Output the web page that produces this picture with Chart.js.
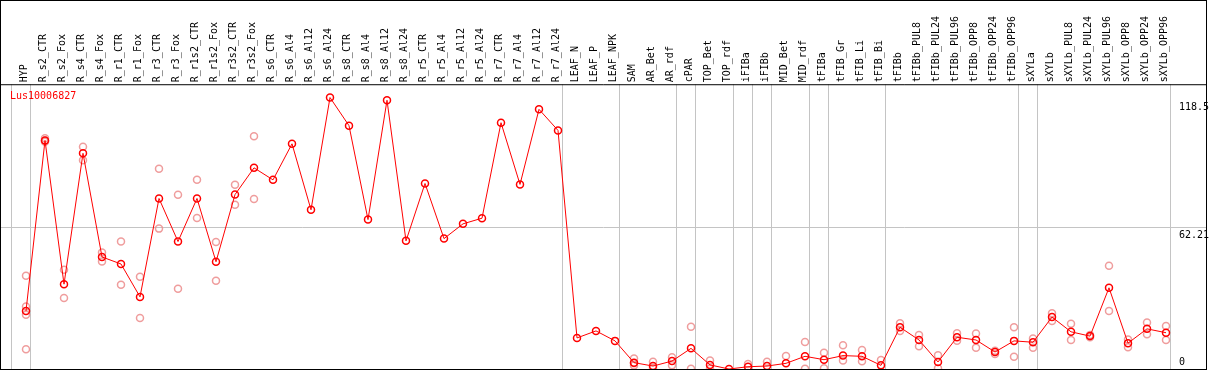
<!DOCTYPE html>
<html>
<head>
<meta charset="utf-8">
<script src="https://cdn.jsdelivr.net/npm/chart.js@4.4.1/dist/chart.umd.min.js"></script>
<style>
  html, body { margin: 0; padding: 0; background: #fff; }
</style>
</head>
<body>
<canvas id="myChart" width="1209" height="370"></canvas>
<script>
const geneName = 'Lus10006827';

const categories = [
  'HYP', 'R_s2_CTR', 'R_s2_Fox', 'R_s4_CTR', 'R_s4_Fox', 'R_r1_CTR', 'R_r1_Fox', 'R_r3_CTR', 'R_r3_Fox',
  'R_r1s2_CTR', 'R_r1s2_Fox', 'R_r3s2_CTR', 'R_r3s2_Fox', 'R_s6_CTR', 'R_s6_Al4', 'R_s6_Al12', 'R_s6_Al24',
  'R_s8_CTR', 'R_s8_Al4', 'R_s8_Al12', 'R_s8_Al24', 'R_r5_CTR', 'R_r5_Al4', 'R_r5_Al12', 'R_r5_Al24',
  'R_r7_CTR', 'R_r7_Al4', 'R_r7_Al12', 'R_r7_Al24', 'LEAF_N', 'LEAF_P', 'LEAF_NPK', 'SAM', 'AR_Bet', 'AR_rdf',
  'cPAR', 'TOP_Bet', 'TOP_rdf', 'iFIBa', 'iFIBb', 'MID_Bet', 'MID_rdf', 'tFIBa', 'tFIB_Gr', 'tFIB_Li', 'tFIB_Bi',
  'tFIBb', 'tFIBb_PUL8', 'tFIBb_PUL24', 'tFIBb_PUL96', 'tFIBb_OPP8', 'tFIBb_OPP24', 'tFIBb_OPP96',
  'sXYLa', 'sXYLb', 'sXYLb_PUL8', 'sXYLb_PUL24', 'sXYLb_PUL96', 'sXYLb_OPP8', 'sXYLb_OPP24', 'sXYLb_OPP96'
];

// mean expression per sample
const means = [
  25.6, 100.8, 37.4, 95.1, 49.4, 46.3, 31.8, 75.2, 56.2,
  75.2, 47.3, 76.9, 88.7, 83.4, 99.3, 70.2, 119.7,
  107.3, 65.9, 118.5, 56.5, 81.8, 57.5, 64.0, 66.5,
  108.6, 81.4, 114.5, 105.2, 13.7, 16.8, 12.4, 2.8, 1.3, 3.5,
  9.1, 1.8, 0.0, 1.0, 1.3, 2.5, 5.6, 4.1, 5.9, 5.6, 1.6,
  18.4, 12.8, 3.1, 14.0, 12.8, 7.5, 12.4,
  11.8, 22.9, 16.4, 14.5, 35.8, 11.4, 17.7, 16.0
];

// individual replicates (null = none shown)
const repHigh = [
  41.1, 101.7, 43.8, 98.0, 51.4, 56.2, 40.7, 88.3, 76.8,
  83.4, 56.0, 81.2, 102.6, null, null, null, null,
  null, null, null, null, null, null, null, null,
  null, null, null, null, null, null, null, 4.6, 3.2, 5.2,
  18.6, 3.8, null, 2.2, 3.2, 5.7, 11.9, 7.2, 10.5, 8.4, 4.0,
  20.2, 15.0, 6.1, 15.8, 15.6, 8.0, 18.4,
  13.4, 24.6, 19.9, 15.0, 45.5, 13.0, 20.5, 19.0
];
const repLow = [
  8.7, 100.2, 31.3, 92.0, 47.4, 37.1, 22.5, 61.9, 35.4,
  66.6, 38.9, 72.4, 75.0, null, null, null, null,
  null, null, null, null, null, null, null, null,
  null, null, null, null, null, null, null, 1.5, 0.5, 1.6,
  0.1, 0.1, null, null, null, null, 0.1, 0.3, 3.8, 3.4, null,
  16.8, 10.0, 0.3, 12.5, 9.4, 6.6, 5.4,
  9.4, 21.2, 12.8, 14.0, 25.6, 9.6, 15.3, 12.8
];
const repExtraA = [
  27.6, 100.8, null, null, null, null, null, null, null,
  null, null, null, null, null, null, null, null,
  null, null, null, null, null, null, null, null,
  null, null, null, null, null, null, null, 2.5, null, null,
  null, null, null, null, null, null, null, null, null, null, null,
  null, null, null, null, null, null, null,
  null, null, null, null, null, null, null, null
];
const repExtraB = [
  23.9, null, null, null, null, null, null, null, null,
  null, null, null, null, null, null, null, null,
  null, null, null, null, null, null, null, null,
  null, null, null, null, null, null, null, null, null, null,
  null, null, null, null, null, null, null, null, null, null, null,
  null, null, null, null, null, null, null,
  null, null, null, null, null, null, null, null
];

const yTicks = [62.21, 118.5];
const groupEnds = [-1, 0, 28, 31, 34, 35, 37, 38, 39, 41, 42, 45, 52, 53, 60];

const monoFont = { family: 'DejaVu Sans Mono', size: 10 };
const xMin = -1.3158;
const xMax = 62.105;
const yMax = 125.57;

const toPoints = (arr) => arr.map((v, i) => ({ x: i, y: v }));

// keep the axes from eating into the plot area
const noPadX = (s) => { s.paddingLeft = 0; s.paddingRight = 0; };
const noPadY = (s) => { s.width = 0; s.paddingTop = 0; s.paddingBottom = 0; };

const repStyle = {
  showLine: false,
  pointRadius: 3.5,
  pointBorderWidth: 1.5,
  pointBorderColor: 'rgba(236, 140, 140, 0.85)',
  pointBackgroundColor: 'rgba(0,0,0,0)',
  order: 2
};

const framePlugin = {
  id: 'frame',
  afterDraw(chart) {
    const { ctx, chartArea } = chart;
    ctx.save();
    ctx.strokeStyle = '#000';
    ctx.lineWidth = 1;
    ctx.strokeRect(0.5, 0.5, chartArea.right, chart.height - 1);
    ctx.beginPath();
    ctx.moveTo(0, chartArea.top + 0.5);
    ctx.lineTo(chartArea.right + 0.5, chartArea.top + 0.5);
    ctx.stroke();
    ctx.fillStyle = '#ff0000';
    ctx.font = '10px "DejaVu Sans Mono"';
    ctx.textBaseline = 'top';
    ctx.fillText(geneName, chartArea.left + 9, chartArea.top + 7);
    ctx.restore();
  }
};

const ctx = document.getElementById('myChart');

const config = {
  type: 'line',
  data: {
    datasets: [
      {
        label: geneName,
        data: toPoints(means),
        borderColor: '#ff0000',
        borderWidth: 1,
        pointRadius: 3.5,
        pointBorderWidth: 1.5,
        pointBorderColor: '#ff0000',
        pointBackgroundColor: 'rgba(0,0,0,0)',
        tension: 0,
        order: 1
      },
      Object.assign({ label: 'rep1', data: toPoints(repHigh) }, repStyle),
      Object.assign({ label: 'rep2', data: toPoints(repLow) }, repStyle),
      Object.assign({ label: 'rep3', data: toPoints(repExtraA) }, repStyle),
      Object.assign({ label: 'rep4', data: toPoints(repExtraB) }, repStyle)
    ]
  },
  options: {
    responsive: false,
    animation: false,
    layout: { autoPadding: false, padding: { left: 1, right: 3, top: 14, bottom: 1 } },
    plugins: { legend: { display: false }, tooltip: { enabled: false } },
    scales: {
      x: {
        type: 'linear',
        position: 'top',
        min: xMin,
        max: xMax,
        afterBuildTicks: (axis) => { axis.ticks = categories.map((c, i) => ({ value: i })); },
        afterFit: noPadX,
        ticks: {
          autoSkip: false,
          maxRotation: 90,
          minRotation: 90,
          padding: 2,
          labelOffset: 10,
          color: '#000',
          font: monoFont,
          callback: (v) => categories[v]
        },
        grid: { display: false, drawTicks: false },
        border: { display: false }
      },
      xg: {
        type: 'linear',
        axis: 'x',
        position: 'bottom',
        min: xMin,
        max: xMax,
        afterBuildTicks: (axis) => { axis.ticks = groupEnds.map(i => ({ value: i + 0.24 })); },
        afterFit: (s) => { noPadX(s); s.height = 0; },
        ticks: { display: false },
        grid: { color: '#c4c4c4', lineWidth: 1, drawTicks: false },
        border: { display: false }
      },
      y: {
        type: 'linear',
        position: 'right',
        min: 0,
        max: yMax,
        afterBuildTicks: (axis) => { axis.ticks = yTicks.map(v => ({ value: v })); },
        afterFit: noPadY,
        ticks: {
          mirror: true,
          padding: 3,
          crossAlign: 'far',
          align: 'start',
          labelOffset: 2,
          color: '#000',
          font: monoFont,
          callback: (v) => String(v)
        },
        grid: {
          drawTicks: false,
          color: (c) => (c.tick && c.tick.value === 62.21 ? '#c4c4c4' : 'rgba(0,0,0,0)')
        },
        border: { display: false }
      },
      y0: {
        type: 'linear',
        axis: 'y',
        position: 'right',
        min: 0,
        max: yMax,
        afterBuildTicks: (axis) => { axis.ticks = [{ value: 0 }]; },
        afterFit: noPadY,
        ticks: {
          mirror: true,
          padding: -21,
          crossAlign: 'far',
          align: 'end',
          labelOffset: -2,
          color: '#000',
          font: monoFont,
          callback: () => '0'
        },
        grid: { display: false, drawTicks: false },
        border: { display: false }
      }
    }
  },
  plugins: [framePlugin]
};

const myChart = new Chart(ctx, config);
</script>
</body>
</html>
